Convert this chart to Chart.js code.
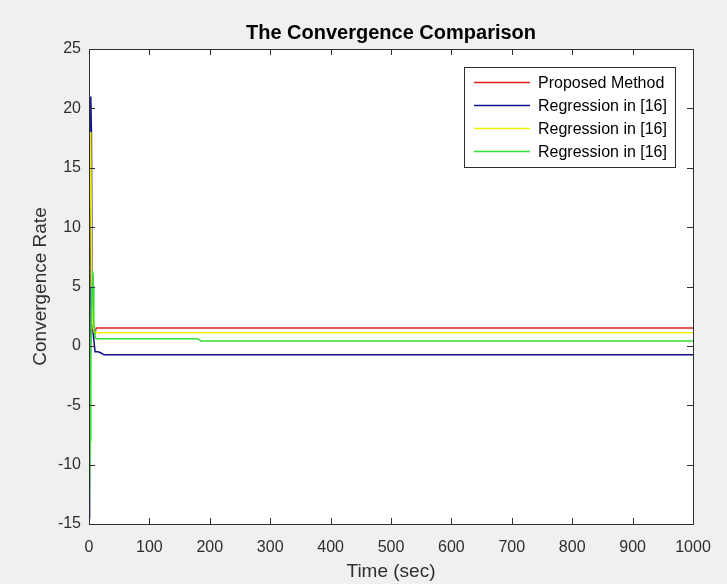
<!DOCTYPE html>
<html>
<head>
<meta charset="utf-8">
<script src="https://cdn.jsdelivr.net/npm/chart.js@4.4.1/dist/chart.umd.min.js"></script>
<style>
  html, body { margin: 0; padding: 0; background: #f0f0f0; }
  #wrap { width: 727px; height: 584px; }
</style>
</head>
<body>
<div id="wrap"><canvas id="conv"></canvas></div>
<script>
/* ---- data ------------------------------------------------------ */
const timeSec   = [0, 1, 2, 3, 4, 5, 6, 7, 8, 10, 12, 15, 20, 25, 180, 185, 1000];
const proposed  = [1, 1.2, 1.3, 1.3, 1.3, 1.3, 1.3, 1.3, 1.2, 1.1, 1.5, 1.5, 1.5, 1.5, 1.5, 1.5, 1.5];
const regBlue   = [-14.5, -5, 10, 21, 18, 6, 2, 1, 0.5, -0.5, -0.5, -0.5, -0.6, -0.75, -0.75, -0.75, -0.75];
const regYellow = [5, 12, 18, 17, 10, 4, 2, 1.5, 1.3, 1.2, 1.1, 1.1, 1.1, 1.1, 1.1, 1.1, 1.1];
const regGreen  = [-15, -15, -8, -2, 2, 5, 6.3, 5, 2, 0.8, 0.6, 0.6, 0.6, 0.6, 0.6, 0.42, 0.42];
const seriesLabels = ["Proposed Method", "Regression in [16]", "Regression in [16]", "Regression in [16]"];
const xTicks = [0, 100, 200, 300, 400, 500, 600, 700, 800, 900, 1000];
const yTicks = [-15, -10, -5, 0, 5, 10, 15, 20, 25];

const FONT = "'Liberation Sans', Arial, Helvetica, sans-serif";
const INK  = "#2e2e2e";

function pts(ys) { return timeSec.map((t, i) => ({ x: t, y: ys[i] })); }

function line(label, data, color, order) {
  return { label, data: pts(data), borderColor: color, backgroundColor: color,
           borderWidth: 1.5, pointRadius: 0, tension: 0, fill: false, order };
}

/* ---- figure background + white axes ---------------------------- */
const backdrop = {
  id: "backdrop",
  beforeDraw(chart) {
    const { ctx, chartArea: a } = chart;
    ctx.save();
    ctx.fillStyle = "#f0f0f0";
    ctx.fillRect(0, 0, chart.width, chart.height);
    ctx.fillStyle = "#ffffff";
    ctx.fillRect(a.left, a.top, a.right - a.left, a.bottom - a.top);
    ctx.restore();
  },
};

/* ---- box, inward ticks, title, legend --------------------------- */
const frame = {
  id: "frame",
  afterDatasetsDraw(chart) {
    const { ctx, chartArea: a, scales } = chart;
    const len = 6;
    ctx.save();
    ctx.strokeStyle = INK;
    ctx.lineWidth = 1;
    ctx.beginPath();
    xTicks.forEach((v) => {
      const x = Math.round(scales.x.getPixelForValue(v)) + 0.5;
      ctx.moveTo(x, a.bottom); ctx.lineTo(x, a.bottom - len);
      ctx.moveTo(x, a.top);    ctx.lineTo(x, a.top + len);
    });
    yTicks.forEach((v) => {
      const y = Math.round(scales.y.getPixelForValue(v)) + 0.5;
      ctx.moveTo(a.left, y);  ctx.lineTo(a.left + len, y);
      ctx.moveTo(a.right, y); ctx.lineTo(a.right - len, y);
    });
    ctx.stroke();
    ctx.strokeRect(Math.round(a.left) + 0.5, Math.round(a.top) + 0.5,
                   Math.round(a.right - a.left), Math.round(a.bottom - a.top));

    /* title */
    ctx.fillStyle = "#000000";
    ctx.font = "bold 20px " + FONT;
    ctx.textAlign = "center";
    ctx.textBaseline = "alphabetic";
    ctx.fillText("The Convergence Comparison", (a.left + a.right) / 2, 39);

    /* legend */
    ctx.font = "16px " + FONT;
    const ds = chart.data.datasets;
    const maxW = Math.max(...ds.map((d) => ctx.measureText(d.label).width));
    const w = 74 + maxW + 8, rowH = 23;
    const h = rowH * ds.length + 8;
    const right = a.right - 18, left = Math.round(right - w), top = a.top + 18;
    ctx.fillStyle = "#ffffff";
    ctx.fillRect(left, top, w, h);
    ctx.strokeStyle = INK;
    ctx.strokeRect(left + 0.5, top + 0.5, Math.round(w), h);
    ds.forEach((d, i) => {
      const y = top + 15.5 + i * rowH;
      ctx.strokeStyle = d.borderColor;
      ctx.lineWidth = 1.5;
      ctx.beginPath();
      ctx.moveTo(left + 10, y); ctx.lineTo(left + 66, y);
      ctx.stroke();
      ctx.fillStyle = "#000000";
      ctx.textAlign = "left";
      ctx.textBaseline = "middle";
      ctx.fillText(d.label, left + 74, y + 1);
    });
    ctx.restore();
  },
};

new Chart(document.getElementById("conv"), {
  type: "line",
  data: {
    datasets: [
      line(seriesLabels[0], proposed,  "#e02020", 4),
      line(seriesLabels[1], regBlue,   "#10108c", 3),
      line(seriesLabels[2], regYellow, "#f2ee00", 2),
      line(seriesLabels[3], regGreen,  "#30e030", 1),
    ],
  },
  options: {
    responsive: true,
    maintainAspectRatio: false,
    animation: false,
    layout: { padding: { left: 0, top: 49, right: 34, bottom: 0 } },
    plugins: { legend: { display: false }, tooltip: { enabled: false }, title: { display: false } },
    scales: {
      x: {
        type: "linear", min: 0, max: 1000,
        afterBuildTicks: (s) => { s.ticks = xTicks.map((v) => ({ value: v })); },
        afterFit: (s) => { s.height = 60; },
        grid: { display: false, drawTicks: false },
        border: { display: false },
        ticks: { color: INK, font: { family: FONT, size: 16 }, padding: 14, maxRotation: 0,
                 callback: (v) => String(v) },
        title: { display: true, text: "Time (sec)", color: INK,
                 font: { family: FONT, size: 19 }, padding: { top: 0, bottom: 1 } },
      },
      y: {
        type: "linear", min: -15, max: 25,
        afterBuildTicks: (s) => { s.ticks = yTicks.map((v) => ({ value: v })); },
        afterFit: (s) => { s.width = 89; },
        grid: { display: false, drawTicks: false },
        border: { display: false },
        ticks: { color: INK, font: { family: FONT, size: 16 }, padding: 8,
                 callback: (v) => String(v) },
        title: { display: true, text: "Convergence Rate", color: INK,
                 font: { family: FONT, size: 19 }, padding: { top: 29, bottom: 0 } },
      },
    },
  },
  plugins: [backdrop, frame],
});
</script>
</body>
</html>
